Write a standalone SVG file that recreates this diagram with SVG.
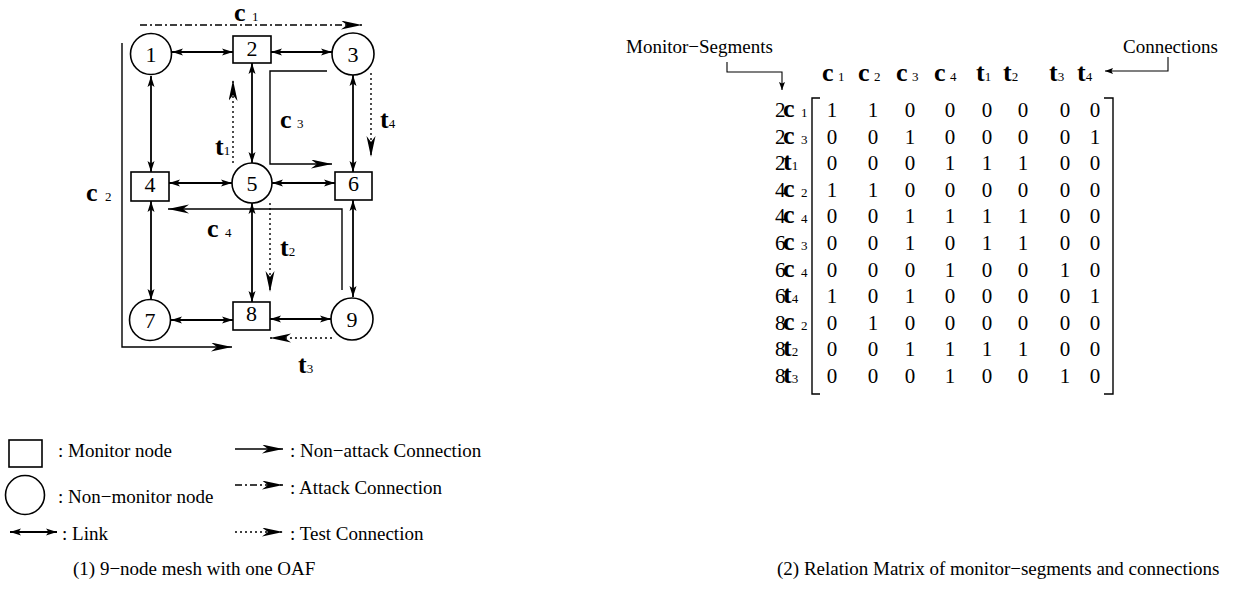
<svg xmlns="http://www.w3.org/2000/svg" width="1250" height="597" viewBox="0 0 1250 597">
  <style>
    text { font-family: "Liberation Serif", "Times New Roman", serif; fill: #000; }
    .num { font-size: 22px; text-anchor: middle; }
    .lbl { font-size: 19px; }
    .var { font-weight: bold; font-size: 26px; }
    .sub { font-size: 13px; }
    .cell { font-size: 21px; text-anchor: middle; }
    .node { fill: #fff; stroke: #000; stroke-width: 1.6; }
    .link { stroke: #000; stroke-width: 1.8; fill: none; marker-start: url(#lh); marker-end: url(#lh); }
    .conn { stroke: #000; stroke-width: 1.4; fill: none; marker-end: url(#barb); }
    .attack { stroke-dasharray: 7 3 2 3; }
    .test { stroke-dasharray: 2 3; }
    .thin { stroke: #000; stroke-width: 1.1; fill: none; }
    .bracket { stroke: #000; stroke-width: 1.4; fill: none; }
  </style>
  <defs>
    <marker id="lh" markerUnits="userSpaceOnUse" markerWidth="12" markerHeight="8" refX="11" refY="4" orient="auto-start-reverse">
      <path d="M0,0.5 L11,4 L0,7.5 L2.5,4 Z" fill="#000"/>
    </marker>
    <marker id="barb" markerUnits="userSpaceOnUse" markerWidth="22" markerHeight="10" refX="21" refY="4.5" orient="auto">
      <path d="M0,0 L21,4.5 L0,9 L6,4.5 Z" fill="#000"/>
    </marker>
    <marker id="sm" markerUnits="userSpaceOnUse" markerWidth="9" markerHeight="6" refX="8" refY="3" orient="auto">
      <path d="M0,0 L8,3 L0,6 L1.5,3 Z" fill="#000"/>
    </marker>
  </defs>

  <!-- mesh links and connections -->
  <g id="connectors">
    <line class="link" x1="172" y1="52" x2="233" y2="52"/>
    <line class="link" x1="271" y1="52" x2="332" y2="52"/>
    <line class="link" x1="151" y1="76" x2="151" y2="172"/>
    <line class="link" x1="252" y1="63" x2="252" y2="163"/>
    <line class="link" x1="353" y1="75" x2="353" y2="172"/>
    <line class="link" x1="169" y1="183" x2="232" y2="183"/>
    <line class="link" x1="272" y1="183" x2="335" y2="183"/>
    <line class="link" x1="151" y1="201" x2="151" y2="300"/>
    <line class="link" x1="252" y1="203" x2="252" y2="302"/>
    <line class="link" x1="353" y1="200" x2="353" y2="297"/>
    <line class="link" x1="171" y1="320" x2="233" y2="320"/>
    <line class="link" x1="270" y1="319" x2="331" y2="319"/>

    <!-- c1: attack connection -->
    <line class="conn attack" x1="140" y1="25" x2="362" y2="25"/>
    <!-- c2, c3, c4: non-attack connections -->
    <polyline class="conn" points="122,43 122,347 232,347"/>
    <polyline class="conn" points="327,71 270,71 270,164 332,164"/>
    <polyline class="conn" points="342,290 342,209 168,209"/>
    <!-- t1..t4: test connections -->
    <line class="conn test" x1="233" y1="163" x2="233" y2="80"/>
    <line class="conn test" x1="270" y1="203" x2="270" y2="292"/>
    <line class="conn test" x1="332" y1="338" x2="270" y2="338"/>
    <line class="conn test" x1="371" y1="73" x2="371" y2="157"/>
  </g>

  <!-- nodes -->
  <g id="node1"><circle class="node" cx="151" cy="54" r="20.5"/><text class="num" x="151" y="62">1</text></g>
  <g id="node2"><rect class="node" x="233" y="36" width="38" height="27"/><text class="num" x="252" y="56">2</text></g>
  <g id="node3"><circle class="node" cx="353" cy="54" r="21"/><text class="num" x="353" y="62">3</text></g>
  <g id="node4"><rect class="node" x="131" y="172" width="38" height="29"/><text class="num" x="150" y="192">4</text></g>
  <g id="node5"><circle class="node" cx="252" cy="183" r="20"/><text class="num" x="252" y="191">5</text></g>
  <g id="node6"><rect class="node" x="335" y="172" width="37" height="28"/><text class="num" x="353.5" y="191">6</text></g>
  <g id="node7"><circle class="node" cx="150" cy="320" r="20.5"/><text class="num" x="150" y="328">7</text></g>
  <g id="node8"><rect class="node" x="233" y="302" width="37" height="28"/><text class="num" x="251.5" y="321">8</text></g>
  <g id="node9"><circle class="node" cx="352" cy="319" r="21"/><text class="num" x="352" y="327">9</text></g>

  <!-- connection labels -->
  <g id="conn-labels">
    <text x="234" y="21" font-size="21"><tspan class="var" font-size="21">c</tspan><tspan class="sub" x="252">1</tspan></text>
    <text x="86" y="201"><tspan class="var">c</tspan><tspan class="sub" x="105">2</tspan></text>
    <text x="280" y="128"><tspan class="var">c</tspan><tspan class="sub" x="297">3</tspan></text>
    <text x="207" y="237"><tspan class="var">c</tspan><tspan class="sub" x="225">4</tspan></text>
    <text x="215" y="155"><tspan class="var">t</tspan><tspan class="sub">1</tspan></text>
    <text x="280" y="256"><tspan class="var">t</tspan><tspan class="sub">2</tspan></text>
    <text x="298" y="373"><tspan class="var">t</tspan><tspan class="sub">3</tspan></text>
    <text x="380" y="128"><tspan class="var">t</tspan><tspan class="sub">4</tspan></text>
  </g>

  <!-- legend -->
  <g id="legend">
    <rect class="node" x="9" y="440" width="33" height="27"/>
    <text class="lbl" x="58" y="457">: Monitor node</text>
    <circle class="node" cx="25" cy="495" r="19.5"/>
    <text class="lbl" x="58" y="503">: Non−monitor node</text>
    <line class="link" x1="10" y1="532" x2="57" y2="532"/>
    <text class="lbl" x="62" y="540">: Link</text>
    <line class="conn" x1="235" y1="449" x2="283" y2="449"/>
    <text class="lbl" x="290" y="457">: Non−attack Connection</text>
    <line class="conn attack" x1="235" y1="485" x2="283" y2="485"/>
    <text class="lbl" x="290" y="494">: Attack Connection</text>
    <line class="conn test" x1="235" y1="532" x2="283" y2="532"/>
    <text class="lbl" x="290" y="540">: Test Connection</text>
  </g>

  <text id="caption1" class="lbl" x="73" y="575">(1) 9−node mesh with one OAF</text>

  <!-- relation matrix -->
  <g id="matrix">
    <text class="lbl" x="626" y="53" font-size="20">Monitor−Segments</text>
    <polyline class="thin" points="727,62 727,72 782,72 782,90" marker-end="url(#sm)"/>
    <text class="lbl" x="1123" y="53">Connections</text>
    <polyline class="thin" points="1168,57 1168,71 1105,71" marker-end="url(#sm)"/>

    <!-- column headers -->
    <g id="col-headers">
      <text x="822" y="81"><tspan class="var" font-size="24">c</tspan><tspan class="sub" x="838">1</tspan></text>
      <text x="858" y="81"><tspan class="var" font-size="24">c</tspan><tspan class="sub" x="874">2</tspan></text>
      <text x="896" y="81"><tspan class="var" font-size="24">c</tspan><tspan class="sub" x="912">3</tspan></text>
      <text x="934" y="81"><tspan class="var" font-size="24">c</tspan><tspan class="sub" x="950">4</tspan></text>
      <text x="976" y="81"><tspan class="var" font-size="24">t</tspan><tspan class="sub">1</tspan></text>
      <text x="1003" y="81"><tspan class="var" font-size="24">t</tspan><tspan class="sub">2</tspan></text>
      <text x="1049" y="81"><tspan class="var" font-size="24">t</tspan><tspan class="sub">3</tspan></text>
      <text x="1077" y="81"><tspan class="var" font-size="24">t</tspan><tspan class="sub">4</tspan></text>
    </g>

    <!-- row headers -->
    <g id="row-headers" font-size="21">
      <text x="775" y="117">2<tspan class="var" x="783">c</tspan><tspan class="sub" x="801">1</tspan></text>
      <text x="775" y="143.6">2<tspan class="var" x="783">c</tspan><tspan class="sub" x="801">3</tspan></text>
      <text x="775" y="170.2">2<tspan class="var" font-size="24" x="783">t</tspan><tspan class="sub">1</tspan></text>
      <text x="775" y="196.8">4<tspan class="var" x="783">c</tspan><tspan class="sub" x="801">2</tspan></text>
      <text x="775" y="223.4">4<tspan class="var" x="783">c</tspan><tspan class="sub" x="801">4</tspan></text>
      <text x="775" y="250">6<tspan class="var" x="783">c</tspan><tspan class="sub" x="801">3</tspan></text>
      <text x="775" y="276.6">6<tspan class="var" x="783">c</tspan><tspan class="sub" x="801">4</tspan></text>
      <text x="775" y="303.2">6<tspan class="var" font-size="24" x="783">t</tspan><tspan class="sub">4</tspan></text>
      <text x="775" y="329.8">8<tspan class="var" x="783">c</tspan><tspan class="sub" x="801">2</tspan></text>
      <text x="775" y="356.4">8<tspan class="var" font-size="24" x="783">t</tspan><tspan class="sub">2</tspan></text>
      <text x="775" y="383">8<tspan class="var" font-size="24" x="783">t</tspan><tspan class="sub">3</tspan></text>
    </g>

    <!-- brackets -->
    <polyline class="bracket" points="820,98 812,98 812,394 820,394"/>
    <polyline class="bracket" points="1104,98 1113,98 1113,394 1104,394"/>

    <!-- matrix entries -->
    <g id="cells">
      <text class="cell" x="832 873 910 950 987 1023 1065 1095" y="117">11000000</text>
      <text class="cell" x="832 873 910 950 987 1023 1065 1095" y="143.6">00100001</text>
      <text class="cell" x="832 873 910 950 987 1023 1065 1095" y="170.2">00011100</text>
      <text class="cell" x="832 873 910 950 987 1023 1065 1095" y="196.8">11000000</text>
      <text class="cell" x="832 873 910 950 987 1023 1065 1095" y="223.4">00111100</text>
      <text class="cell" x="832 873 910 950 987 1023 1065 1095" y="250">00101100</text>
      <text class="cell" x="832 873 910 950 987 1023 1065 1095" y="276.6">00010010</text>
      <text class="cell" x="832 873 910 950 987 1023 1065 1095" y="303.2">10100001</text>
      <text class="cell" x="832 873 910 950 987 1023 1065 1095" y="329.8">01000000</text>
      <text class="cell" x="832 873 910 950 987 1023 1065 1095" y="356.4">00111100</text>
      <text class="cell" x="832 873 910 950 987 1023 1065 1095" y="383">00010010</text>
    </g>
  </g>

  <text id="caption2" class="lbl" x="777" y="575">(2) Relation Matrix of monitor−segments and connections</text>
</svg>
